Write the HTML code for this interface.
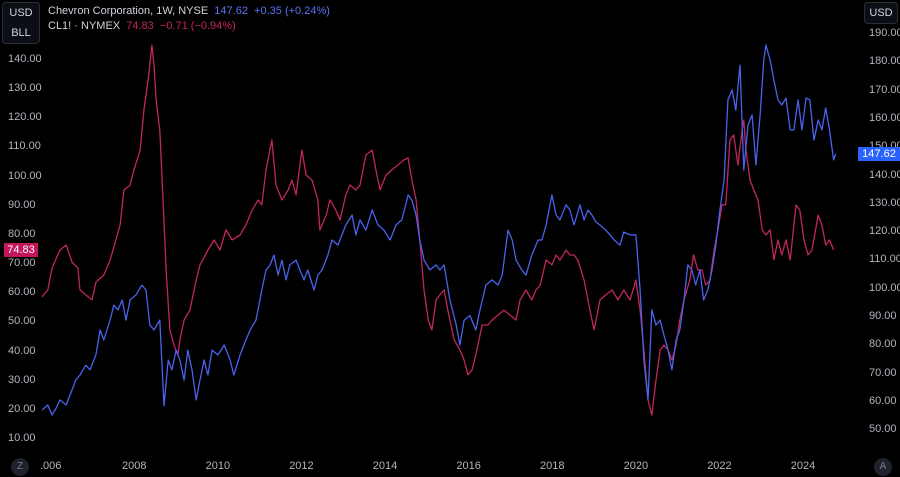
<!DOCTYPE html>
<html><head><meta charset="utf-8"><style>
html,body{margin:0;padding:0;background:#000;width:900px;height:477px;overflow:hidden;font-family:"Liberation Sans",sans-serif;}
#root{position:relative;width:900px;height:477px;background:#000;}
.lbl{position:absolute;font-size:11px;color:#b2b5be;}
.box{position:absolute;border:1px solid #2a2e39;border-radius:4px;background:#0c0e15;color:#d1d4dc;font-size:11px;text-align:center;}
.circ{position:absolute;width:18px;height:18px;border-radius:9px;background:#1e222d;color:#787b86;font-size:10px;text-align:center;line-height:18px;}
</style></head><body>
<div id="root">
<svg id="plot" width="900" height="477" style="position:absolute;left:0;top:0"></svg>
<div class="box" style="left:2px;top:2px;width:36px;height:40px;">
 <div style="margin-top:4px">USD</div>
 <div style="margin-top:8px">BLL</div>
</div>
<div class="box" style="left:864px;top:2px;width:32px;height:20px;line-height:20px;">USD</div>
<div style="position:absolute;left:48px;top:5px;font-size:11px;color:#d1d4dc;white-space:nowrap">Chevron Corporation, 1W, NYSE&nbsp;&nbsp;<span style="color:#5b73f5">147.62&nbsp;&nbsp;+0.35 (+0.24%)</span></div>
<div style="position:absolute;left:48px;top:20px;font-size:11px;color:#d1d4dc;white-space:nowrap">CL1! · NYMEX&nbsp;&nbsp;<span style="color:#c2265c">74.83&nbsp;&nbsp;−0.71 (−0.94%)</span></div>
<div class="circ" style="left:11px;top:458px">Z</div>
<div class="circ" style="left:874px;top:458px">A</div>
</div>
<script>
const oilDates=[2005.75,2005.89,2005.99,2006.18,2006.33,2006.47,2006.61,2006.66,2006.80,2006.95,2007.04,2007.23,2007.38,2007.52,2007.62,2007.71,2007.86,2007.95,2008.10,2008.19,2008.29,2008.38,2008.43,2008.48,2008.57,2008.62,2008.72,2008.81,2008.91,2009.00,2009.05,2009.15,2009.29,2009.44,2009.53,2009.72,2009.87,2010.01,2010.15,2010.30,2010.49,2010.63,2010.78,2010.92,2011.01,2011.11,2011.25,2011.35,2011.49,2011.64,2011.73,2011.83,2011.97,2012.07,2012.21,2012.35,2012.40,2012.55,2012.64,2012.78,2012.88,2013.02,2013.12,2013.26,2013.36,2013.50,2013.65,2013.74,2013.84,2013.98,2014.12,2014.27,2014.41,2014.51,2014.60,2014.70,2014.79,2014.89,2014.99,2015.08,2015.18,2015.27,2015.37,2015.46,2015.61,2015.75,2015.85,2015.94,2016.04,2016.13,2016.28,2016.42,2016.52,2016.66,2016.80,2016.95,2017.09,2017.19,2017.33,2017.47,2017.57,2017.67,2017.81,2017.95,2018.05,2018.14,2018.29,2018.38,2018.48,2018.57,2018.72,2018.86,2018.96,2019.10,2019.24,2019.39,2019.53,2019.67,2019.82,2019.96,2020.06,2020.15,2020.25,2020.34,2020.44,2020.54,2020.63,2020.73,2020.82,2020.92,2021.01,2021.11,2021.25,2021.34,2021.44,2021.54,2021.63,2021.73,2021.83,2021.92,2022.02,2022.11,2022.21,2022.30,2022.40,2022.50,2022.54,2022.59,2022.69,2022.78,2022.88,2022.98,2023.07,2023.17,2023.26,2023.36,2023.45,2023.55,2023.65,2023.79,2023.88,2023.98,2024.08,2024.17,2024.32,2024.41,2024.50,2024.59,2024.69];
const oilValues=[58.7,61.1,68.6,74.8,76.5,70.7,68.6,61.1,59.4,57.7,63.8,66.2,71.4,78.3,83.4,95.4,97.1,102.3,109.1,122.8,133.1,145.1,138.3,126.3,116.0,100.5,68.0,47.4,42.2,38.8,44.0,50.8,54.2,64.5,69.7,74.8,78.3,74.8,81.7,78.3,80.0,83.4,88.5,92.0,90.3,102.3,112.6,97.1,92.0,95.4,98.8,93.7,109.1,100.5,98.8,92.0,81.7,86.8,92.0,88.5,85.1,93.7,97.1,95.4,97.1,107.4,109.1,102.3,95.4,100.5,102.3,104.0,105.7,106.4,98.8,92.0,78.3,61.1,50.8,47.4,57.7,59.4,61.1,54.2,44.0,40.5,37.1,32.0,33.7,38.8,49.1,49.1,50.8,52.5,54.2,52.5,50.8,57.7,61.1,57.7,61.1,62.8,71.4,69.7,73.1,71.4,74.8,73.1,73.1,71.4,64.5,54.2,47.4,57.7,59.4,61.1,57.7,61.1,57.7,64.5,54.2,40.5,23.4,18.2,30.2,40.5,42.2,40.5,37.1,42.2,50.8,57.7,64.5,73.1,68.0,68.0,62.8,64.5,74.8,81.7,90.3,90.3,112.6,114.3,104.0,116.0,119.4,109.1,98.8,95.4,92.0,81.7,80.0,81.7,71.4,78.3,73.1,78.3,71.4,90.3,88.5,78.3,73.1,74.8,86.8,83.4,76.5,78.3,74.83];
const cvxDates=[2005.75,2005.89,2005.99,2006.09,2006.18,2006.33,2006.42,2006.56,2006.66,2006.80,2006.90,2007.04,2007.14,2007.23,2007.38,2007.47,2007.57,2007.67,2007.76,2007.86,2008.00,2008.14,2008.24,2008.33,2008.43,2008.57,2008.67,2008.77,2008.86,2008.96,2009.05,2009.15,2009.24,2009.34,2009.44,2009.53,2009.63,2009.72,2009.82,2009.96,2010.11,2010.25,2010.34,2010.49,2010.63,2010.73,2010.87,2011.01,2011.11,2011.21,2011.30,2011.40,2011.49,2011.59,2011.68,2011.83,2011.92,2012.02,2012.11,2012.26,2012.35,2012.45,2012.59,2012.69,2012.83,2013.02,2013.17,2013.26,2013.36,2013.50,2013.65,2013.79,2013.93,2014.08,2014.22,2014.36,2014.51,2014.60,2014.70,2014.79,2014.89,2015.03,2015.18,2015.27,2015.37,2015.51,2015.66,2015.75,2015.85,2015.99,2016.13,2016.23,2016.37,2016.52,2016.66,2016.76,2016.90,2017.00,2017.09,2017.23,2017.33,2017.47,2017.62,2017.71,2017.81,2017.95,2018.05,2018.14,2018.29,2018.38,2018.48,2018.62,2018.72,2018.81,2018.91,2019.00,2019.10,2019.24,2019.34,2019.44,2019.58,2019.67,2019.82,2019.96,2020.06,2020.15,2020.25,2020.34,2020.44,2020.54,2020.63,2020.73,2020.82,2020.92,2021.01,2021.11,2021.20,2021.30,2021.39,2021.49,2021.58,2021.68,2021.78,2021.87,2021.97,2022.07,2022.16,2022.26,2022.35,2022.45,2022.54,2022.64,2022.74,2022.83,2022.93,2023.02,2023.07,2023.17,2023.26,2023.36,2023.45,2023.55,2023.65,2023.74,2023.84,2023.93,2024.03,2024.12,2024.22,2024.32,2024.41,2024.50,2024.59,2024.69,2024.74];
const cvxValues=[57.1,58.9,55.4,57.8,60.7,58.9,62.4,67.7,69.5,73.0,71.3,76.6,85.4,81.9,88.9,94.2,92.5,96.0,88.9,96.0,97.8,101.3,99.5,87.2,85.4,88.9,58.6,74.8,71.3,78.3,74.8,67.7,78.3,71.3,60.7,67.7,74.8,69.5,78.3,76.6,80.1,74.8,69.5,76.6,81.9,85.4,88.9,99.5,106.6,108.4,111.9,104.8,110.1,103.1,108.4,110.1,106.6,103.1,106.6,99.5,104.8,106.6,111.9,117.2,115.4,122.5,126.0,119.0,124.3,120.7,127.8,122.5,120.7,117.2,122.5,124.3,133.1,131.3,126.0,117.2,110.1,106.6,108.4,106.6,108.4,96.0,87.2,80.1,88.9,90.5,85.4,92.5,101.3,103.1,101.3,104.8,120.7,117.2,110.1,106.6,104.8,111.9,117.2,117.2,122.5,133.1,126.0,124.3,129.6,127.8,122.5,129.6,124.3,127.8,126.0,123.6,122.5,120.7,119.0,117.2,115.4,120.0,119.0,119.0,99.5,74.8,60.7,92.5,87.2,88.9,83.6,78.3,71.3,81.9,85.4,96.0,108.4,106.6,101.3,106.6,96.0,99.5,106.6,115.4,127.8,138.4,166.7,170.2,163.1,179.0,141.9,157.8,161.4,143.7,161.4,180.8,186.1,180.8,173.7,166.7,164.9,167.4,156.1,156.1,166.7,156.1,167.4,166.7,152.5,159.6,156.1,163.9,156.1,145.5,147.62];
const leftTicks=[10,20,30,40,50,60,70,80,90,100,110,120,130,140];
const rightTicks=[50,60,70,80,90,100,110,120,130,140,150,160,170,180,190];
const yearTicks=[2006,2008,2010,2012,2014,2016,2018,2020,2022,2024];

const NS="http://www.w3.org/2000/svg";
const svg=document.getElementById('plot');
const xS=t=>136+(t-2008)*41.8;
const yL=v=>60+(140-v)*2.915;
const yR=v=>34+(190-v)*2.83;
const root=document.getElementById('root');

function mk(tag,attrs){const e=document.createElementNS(NS,tag);for(const k in attrs)e.setAttribute(k,attrs[k]);svg.appendChild(e);return e;}

function line(dates,vals,ys,color,name){
  let d='';
  for(let i=0;i<dates.length;i++){d+=(i?'L':'M')+xS(dates[i]).toFixed(1)+','+ys(vals[i]).toFixed(1);}
  const p=mk('path',{d:d,fill:'none',stroke:color,'stroke-width':1.3,'stroke-linejoin':'round'});
  
  
}
line(oilDates,oilValues,yL,'#c2265c','crude-oil-line');
line(cvxDates,cvxValues,yR,'#4a62ee','chevron-line');

leftTicks.forEach(v=>{
  const d=document.createElement('div');d.className='lbl';
  d.style.left='8px';d.style.top=(yL(v)-7)+'px';d.textContent=v.toFixed(2);
  
  
  root.appendChild(d);
});
rightTicks.forEach(v=>{
  const d=document.createElement('div');d.className='lbl';
  d.style.left='869px';d.style.top=(yR(v)-7)+'px';d.textContent=v.toFixed(2);
  
  
  root.appendChild(d);
});
yearTicks.forEach(y=>{
  const d=document.createElement('div');d.className='lbl';
  d.style.left=(xS(y)-14)+'px';d.style.top='460px';d.style.color='#b2b5be';
  d.textContent=(y===2006)?'.006':String(y);
  if(y===2006){d.style.left='40px';}
  
  
  root.appendChild(d);
});
// last-price tags
const oilLast=oilValues[oilValues.length-1];
const cvxLast=cvxValues[cvxValues.length-1];
const ot=document.createElement('div');
ot.style.cssText='position:absolute;left:4px;width:34px;height:14px;background:#c2185b;color:#fff;font-size:11px;line-height:14px;text-align:center;top:'+(yL(oilLast)-7)+'px';
ot.textContent=oilLast.toFixed(2);


root.appendChild(ot);
const ct=document.createElement('div');
ct.style.cssText='position:absolute;left:858px;width:42px;height:14px;background:#2962ff;color:#fff;font-size:11px;line-height:14px;text-align:center;top:'+(yR(cvxLast)-7)+'px';
ct.textContent=cvxLast.toFixed(2);


root.appendChild(ct);
</script>
</body></html>
